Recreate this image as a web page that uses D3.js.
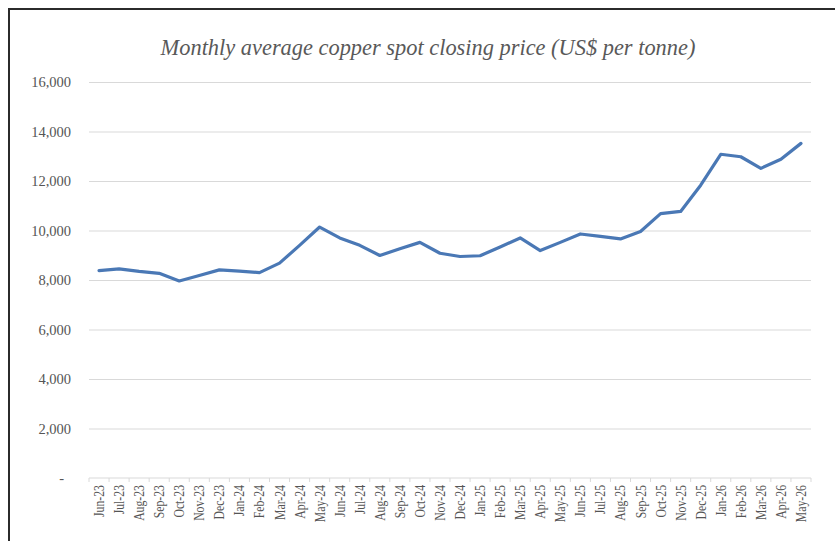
<!DOCTYPE html>
<html>
<head>
<meta charset="utf-8">
<script src="https://cdn.jsdelivr.net/npm/d3@7"></script>
<style>
  body { margin: 0; background: #fff; }
  svg { display: block; }
</style>
</head>
<body>
<div id="chart"></div>
<script>
// Monthly average copper spot closing price, Jun-23 .. May-26
var months = ["Jun-23","Jul-23","Aug-23","Sep-23","Oct-23","Nov-23","Dec-23",
  "Jan-24","Feb-24","Mar-24","Apr-24","May-24","Jun-24","Jul-24","Aug-24","Sep-24","Oct-24","Nov-24","Dec-24",
  "Jan-25","Feb-25","Mar-25","Apr-25","May-25","Jun-25","Jul-25","Aug-25","Sep-25","Oct-25","Nov-25","Dec-25",
  "Jan-26","Feb-26","Mar-26","Apr-26","May-26"];

var prices = [8380, 8450, 8350, 8270, 7960, 8180, 8410,
  8360, 8300, 8680, 9400, 10140, 9700, 9400, 8990, 9260, 9520, 9080, 8950,
  8980, 9330, 9700, 9190, 9520, 9860, 9760, 9660, 9960, 10680, 10770, 11830,
  13080, 12980, 12510, 12880, 13520];

var yTicks = [0, 2000, 4000, 6000, 8000, 10000, 12000, 14000, 16000];

var width = 835, height = 541;
var margin = {top: 82, right: 24, bottom: 63, left: 89};
var plot_w = 811 - margin.left,
    plot_h = 478 - margin.top;

var serif = "'Liberation Serif', 'Times New Roman', serif";

var svg = d3.select("#chart")
  .append("svg")
    .attr("width", width)
    .attr("height", height);

// outer frame (only top and left edges are visible in the picture)
svg.append("rect")
  .attr("x", 9).attr("y", 9)
  .attr("width", 900).attr("height", 700)
  .attr("fill", "none")
  .attr("stroke", "#2b2b2b")
  .attr("stroke-width", 2);

svg.append("text")
  .attr("x", 428)
  .attr("y", 55)
  .attr("text-anchor", "middle")
  .style("font-family", serif)
  .style("font-style", "italic")
  .style("font-size", "22.4px")
  .style("fill", "#595959")
  .text("Monthly average copper spot closing price (US$ per tonne)");

var g = svg.append("g")
  .attr("transform", "translate(" + margin.left + "," + margin.top + ")");

var x = d3.scaleBand()
  .domain(months)
  .range([0, plot_w])
  .padding(0);

var y = d3.scaleLinear()
  .domain([0, 16000])
  .range([plot_h, 0]);

// gridlines
g.append("g")
  .attr("class", "grid")
  .call(d3.axisLeft(y).tickValues(yTicks.slice(1)).tickSize(-plot_w).tickFormat(""))
  .call(function(s) {
    s.select(".domain").remove();
    s.selectAll("line").attr("stroke", "#d9d9d9").attr("stroke-width", 1);
  });

// y labels
g.append("g")
  .attr("transform", "translate(-15,0)")
  .call(d3.axisLeft(y).tickValues(yTicks).tickSize(0)
    .tickFormat(function(d) { return d === 0 ? "-" : d3.format(",")(d); }))
  .call(function(s) {
    s.select(".domain").remove();
    s.selectAll("text")
      .style("font-family", serif)
      .style("font-size", "14.5px")
      .style("fill", "#555");
    s.selectAll("text").filter(function(d) { return d === 0; })
      .attr("dx", -7);
  });

// x axis line with ticks between categories
var xAxis = g.append("g")
  .attr("transform", "translate(0," + plot_h + ")");

xAxis.append("line")
  .attr("x1", 0).attr("x2", plot_w)
  .attr("stroke", "#d9d9d9");

xAxis.selectAll(".tk")
  .data(months.concat(["end"]))
  .enter().append("line")
    .attr("class", "tk")
    .attr("x1", function(d, i) { return i * x.step(); })
    .attr("x2", function(d, i) { return i * x.step(); })
    .attr("y1", 0).attr("y2", 4)
    .attr("stroke", "#d9d9d9");

// labels look squeezed along their length in the picture
xAxis.selectAll(".lbl")
  .data(months)
  .enter().append("text")
    .attr("class", "lbl")
    .attr("transform", function(d) {
      return "translate(" + (x(d) + x.bandwidth() / 2 + 5) + ",7) rotate(-90) scale(0.81,1)";
    })
    .attr("text-anchor", "end")
    .style("font-family", serif)
    .style("font-size", "14.5px")
    .style("fill", "#555")
    .text(function(d) { return d; });

// the price line
var line = d3.line()
  .x(function(d, i) { return x(months[i]) + x.bandwidth() / 2; })
  .y(function(d) { return y(d); });

g.append("path")
  .datum(prices)
  .attr("d", line)
  .attr("fill", "none")
  .attr("stroke", "#4a78b5")
  .attr("stroke-width", 3.2)
  .attr("stroke-linejoin", "round")
  .attr("stroke-linecap", "round");
</script>
</body>
</html>
